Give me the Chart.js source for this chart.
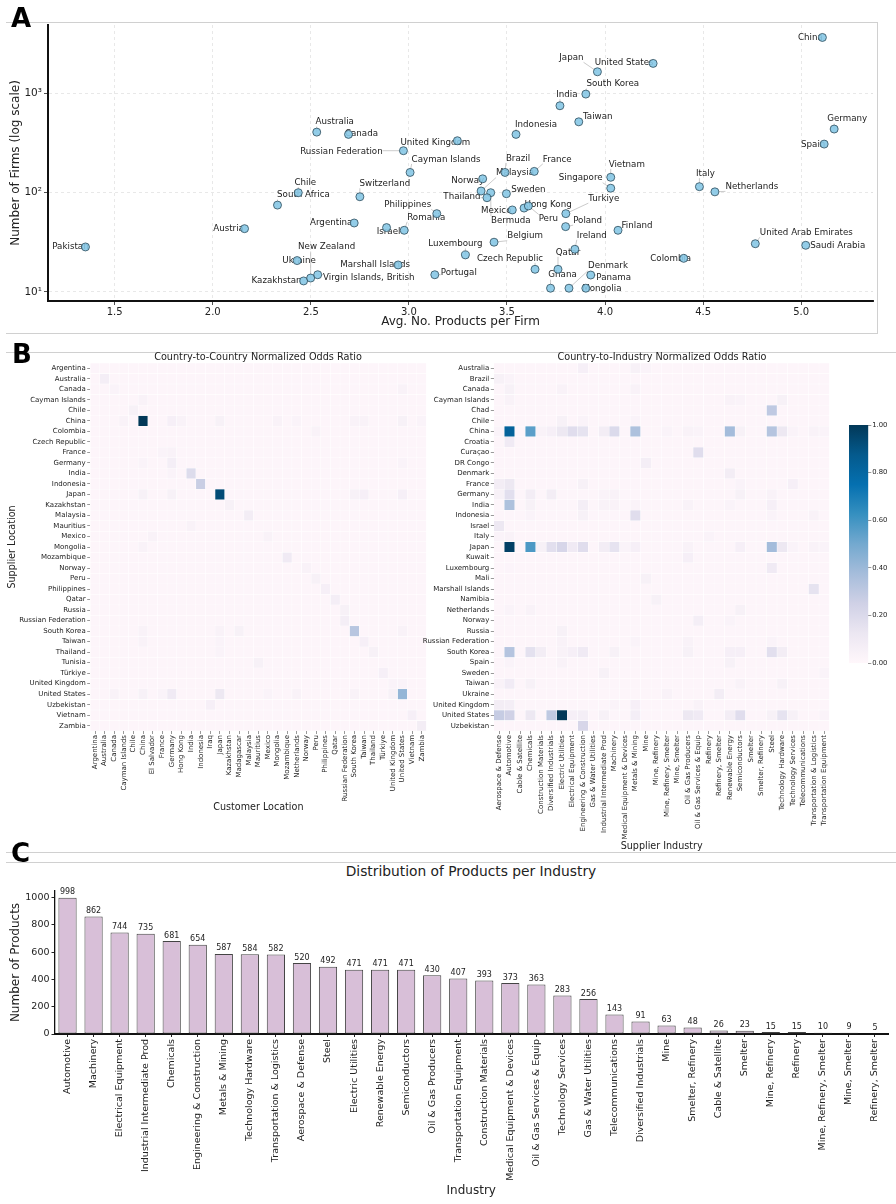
<!DOCTYPE html>
<html>
<head>
<meta charset="utf-8">
<script src="https://cdn.jsdelivr.net/npm/chart.js@4.4.1/dist/chart.umd.min.js"></script>
<style>
  body { margin: 0; background: #fff; font-family: "DejaVu Sans", sans-serif; color: #222; }
  #page { position: relative; width: 896px; height: 1204px; overflow: hidden; }
  canvas { position: absolute; }
  .rule { position: absolute; background: #d0d0d0; }
  .txt { position: absolute; transform: translate(-50%, -50%); white-space: nowrap; line-height: 1; color: #222; }
  .letter { position: absolute; font-weight: bold; font-size: 26px; line-height: 1; color: #000; }
</style>
</head>
<body>
<div id="page">
  <div class="rule" style="left:6px;top:22px;width:872px;height:1px"></div>
  <div class="rule" style="left:877px;top:22px;width:1px;height:312px"></div>
  <div class="rule" style="left:6px;top:333px;width:872px;height:1px"></div>
  <div class="rule" style="left:6px;top:352px;width:890px;height:1px"></div>
  <div class="rule" style="left:6px;top:852px;width:890px;height:1px"></div>
  <div class="rule" style="left:6px;top:862px;width:890px;height:1px"></div>

  <canvas id="chartA" width="896" height="340" style="left:0;top:0"></canvas>
  <canvas id="heatCountry" width="440" height="465" style="left:0;top:348px"></canvas>
  <canvas id="heatIndustry" width="420" height="504" style="left:420px;top:348px"></canvas>
  <canvas id="colorbar" width="56" height="330" style="left:840px;top:348px"></canvas>
  <canvas id="chartC" width="896" height="324" style="left:0;top:880px"></canvas>

  <div class="txt" style="left:258px;top:357px;font-size:9.7px">Country-to-Country Normalized Odds Ratio</div>
  <div class="txt" style="left:662px;top:357px;font-size:9.7px">Country-to-Industry Normalized Odds Ratio</div>
  <div class="txt" style="left:471px;top:872px;font-size:13.8px">Distribution of Products per Industry</div>

  <div class="letter" style="left:11px;top:5px">A</div>
  <div class="letter" style="left:12px;top:341px">B</div>
  <div class="letter" style="left:11px;top:840px">C</div>
</div>

<script>
// ---------- Panel A: firms vs. products per firm ----------
const countries = [
  'Pakistan', 'Austria', 'South Africa', 'Chile', 'Australia', 'Canada', 'Russian Federation',
  'United Kingdom', 'Cayman Islands', 'Switzerland', 'Philippines', 'Romania', 'Israel', 'Argentina',
  'Ukraine', 'Kazakhstan', 'New Zealand', 'Virgin Islands, British', 'Marshall Islands', 'Portugal',
  'Luxembourg', 'China', 'Japan', 'United States', 'South Korea', 'India', 'Taiwan', 'Indonesia',
  'Germany', 'Spain', 'Brazil', 'France', 'Norway', 'Malaysia', 'Bermuda', 'Thailand', 'Sweden',
  'Mexico', 'Hong Kong', 'Peru', 'Turkiye', 'Poland', 'Vietnam', 'Singapore', 'Finland', 'Belgium',
  'Ireland', 'Qatar', 'Czech Republic', 'Ghana', 'Denmark', 'Mongolia', 'Panama', 'Colombia',
  'Italy', 'Netherlands', 'United Arab Emirates', 'Saudi Arabia'
];
const avgProducts = [
  1.351, 2.162, 2.33, 2.436, 2.53, 2.692, 2.972,
  3.247, 3.006, 2.75, 3.142, 2.976, 2.886, 2.721,
  2.43, 2.463, 2.499, 2.535, 2.945, 3.132,
  3.288, 5.108, 3.961, 4.245, 3.902, 3.77, 3.866, 3.546,
  5.168, 5.117, 3.49, 3.639, 3.376, 3.368, 3.417, 3.398, 3.497,
  3.527, 3.587, 3.609, 3.80, 3.799, 4.029, 4.029, 4.066, 3.434,
  3.846, 3.76, 3.643, 3.722, 3.816, 3.902, 3.927, 4.401,
  4.481, 4.56, 4.766, 5.023
];
const firmCounts = [
  28.4, 43.4, 75, 100, 408, 387, 265,
  334, 160, 91, 61.5, 41.8, 44.5, 49.5,
  20.7, 12.9, 13.8, 14.9, 18.7, 14.9,
  23.6, 3670, 1655, 2010, 986, 752, 518, 387,
  438, 309, 160, 164, 138, 104, 100, 89, 97.7,
  67, 70, 73.5, 61.5, 45.5, 143, 111, 41.8, 31.7,
  26.9, 16.9, 16.9, 10.9, 10.9, 10.9, 14.8, 21.8,
  115, 102, 30.6, 29.5
];
const xTicksA = [1.5, 2.0, 2.5, 3.0, 3.5, 4.0, 4.5, 5.0];
const yTicksA = [10, 100, 1000];

// label placement (pixel nudge of each label centre from its point)
const labelNudge = {
  'Pakistan': [-15, 0], 'Austria': [-16, 0], 'Australia': [18, -10], 'Canada': [13, -1],
  'Russian Federation': [-62, 1], 'United Kingdom': [-22, 2], 'Cayman Islands': [36, -13],
  'Chile': [7, -10], 'South Africa': [26, -10], 'Switzerland': [25, -13], 'Philippines': [-29, -9],
  'Romania': [22, -13], 'Israel': [2, 4], 'Argentina': [-23, 0], 'New Zealand': [16, -31],
  'Ukraine': [2, 0], 'Kazakhstan': [-27, 0], 'Virgin Islands, British': [51, 3],
  'Marshall Islands': [-23, 0], 'Portugal': [24, -2], 'Luxembourg': [-10, -11], 'China': [-12, 0],
  'Japan': [-26, -14], 'United States': [-29, -1], 'South Korea': [27, -10], 'India': [7, -11],
  'Taiwan': [19, -5], 'Indonesia': [20, -10], 'Germany': [13, -10], 'Spain': [-11, 1],
  'Brazil': [13, -14], 'France': [23, -12], 'Malaysia': [34, -18], 'Norway': [-15, 2],
  'Thailand': [-25, -1], 'Sweden': [22, -4], 'Mexico': [-16, 1], 'Bermuda': [20, 28],
  'Hong Kong': [24, -3], 'Peru': [20, 13], 'Turkiye': [38, -15], 'Poland': [22, -6],
  'Vietnam': [16, -13], 'Singapore': [-30, -10], 'Finland': [19, -5], 'Belgium': [31, -6],
  'Ireland': [17, -14], 'Qatar': [10, -17], 'Czech Republic': [-25, -11], 'Ghana': [12, -13],
  'Denmark': [39, -22], 'Mongolia': [16, 1], 'Panama': [23, 3], 'Colombia': [-13, 0],
  'Italy': [6, -13], 'Netherlands': [37, -5], 'United Arab Emirates': [51, -11], 'Saudi Arabia': [32, 0]
};

// ---------- Panel B: normalized odds ratio heatmaps ----------
const supplierCountries = [
  'Argentina', 'Australia', 'Canada', 'Cayman Islands', 'Chile', 'China', 'Colombia', 'Czech Republic',
  'France', 'Germany', 'India', 'Indonesia', 'Japan', 'Kazakhstan', 'Malaysia', 'Mauritius', 'Mexico',
  'Mongolia', 'Mozambique', 'Norway', 'Peru', 'Philippines', 'Qatar', 'Russia', 'Russian Federation',
  'South Korea', 'Taiwan', 'Thailand', 'Tunisia', 'Türkiye', 'United Kingdom', 'United States',
  'Uzbekistan', 'Vietnam', 'Zambia'
];
const customerCountries = [
  'Argentina', 'Australia', 'Canada', 'Cayman Islands', 'Chile', 'China', 'El Salvador', 'France',
  'Germany', 'Hong Kong', 'India', 'Indonesia', 'Iraq', 'Japan', 'Kazakhstan', 'Madagascar', 'Malaysia',
  'Mauritius', 'Mexico', 'Mongolia', 'Mozambique', 'Netherlands', 'Norway', 'Peru', 'Philippines',
  'Qatar', 'Russian Federation', 'South Korea', 'Taiwan', 'Thailand', 'Türkiye', 'United Kingdom',
  'United States', 'Vietnam', 'Zambia'
];
// cells that stand out from the near-zero background: [supplier, customer, value]
const countryPairOdds = [
  ['Argentina', 'Argentina', 0.02], ['Australia', 'Australia', 0.07],
  ['Canada', 'Canada', 0.03], ['Canada', 'United States', 0.04],
  ['Cayman Islands', 'China', 0.04], ['Chile', 'Chile', 0.05],
  ['China', 'Cayman Islands', 0.04], ['China', 'China', 1.0], ['China', 'Germany', 0.06],
  ['China', 'Hong Kong', 0.04], ['China', 'Japan', 0.05], ['China', 'Mongolia', 0.04],
  ['China', 'Netherlands', 0.03], ['China', 'South Korea', 0.04], ['China', 'Taiwan', 0.04],
  ['China', 'United States', 0.05], ['China', 'Zambia', 0.03],
  ['Colombia', 'Peru', 0.04], ['France', 'France', 0.03], ['France', 'Germany', 0.04],
  ['Germany', 'China', 0.03], ['Germany', 'Germany', 0.07], ['Germany', 'United States', 0.03],
  ['India', 'Germany', 0.03], ['India', 'India', 0.19], ['Indonesia', 'Indonesia', 0.27],
  ['Japan', 'China', 0.05], ['Japan', 'Germany', 0.05], ['Japan', 'Japan', 0.93],
  ['Japan', 'South Korea', 0.05], ['Japan', 'Taiwan', 0.06], ['Japan', 'United States', 0.06],
  ['Kazakhstan', 'Kazakhstan', 0.05], ['Malaysia', 'Malaysia', 0.08], ['Mauritius', 'India', 0.04],
  ['Mexico', 'El Salvador', 0.04], ['Mexico', 'Mexico', 0.04], ['Mongolia', 'China', 0.04],
  ['Mozambique', 'Mozambique', 0.1], ['Norway', 'Norway', 0.04], ['Peru', 'Peru', 0.05],
  ['Philippines', 'Philippines', 0.06], ['Qatar', 'Qatar', 0.07],
  ['Russia', 'Russian Federation', 0.05], ['Russian Federation', 'Russian Federation', 0.07],
  ['South Korea', 'China', 0.04], ['South Korea', 'Japan', 0.04], ['South Korea', 'Madagascar', 0.05],
  ['South Korea', 'South Korea', 0.32], ['South Korea', 'United States', 0.04],
  ['Taiwan', 'China', 0.04], ['Taiwan', 'Japan', 0.03], ['Taiwan', 'Taiwan', 0.06],
  ['Thailand', 'Japan', 0.03], ['Thailand', 'Thailand', 0.05], ['Tunisia', 'Mauritius', 0.05],
  ['Türkiye', 'Türkiye', 0.06], ['United Kingdom', 'United Kingdom', 0.03],
  ['United Kingdom', 'United States', 0.03],
  ['United States', 'Canada', 0.04], ['United States', 'China', 0.05], ['United States', 'France', 0.03],
  ['United States', 'Germany', 0.1], ['United States', 'Japan', 0.12], ['United States', 'Mexico', 0.03],
  ['United States', 'Netherlands', 0.04], ['United States', 'South Korea', 0.04],
  ['United States', 'United Kingdom', 0.05], ['United States', 'United States', 0.42],
  ['Uzbekistan', 'Iraq', 0.06], ['Vietnam', 'Vietnam', 0.06], ['Zambia', 'Zambia', 0.08]
];

const industrySuppliers = [
  'Australia', 'Brazil', 'Canada', 'Cayman Islands', 'Chad', 'Chile', 'China', 'Croatia', 'Curaçao',
  'DR Congo', 'Denmark', 'France', 'Germany', 'India', 'Indonesia', 'Israel', 'Italy', 'Japan', 'Kuwait',
  'Luxembourg', 'Mali', 'Marshall Islands', 'Namibia', 'Netherlands', 'Norway', 'Russia',
  'Russian Federation', 'South Korea', 'Spain', 'Sweden', 'Taiwan', 'Ukraine', 'United Kingdom',
  'United States', 'Uzbekistan'
];
const supplierIndustries = [
  'Aerospace & Defense', 'Automotive', 'Cable & Satellite', 'Chemicals', 'Construction Materials',
  'Diversified Industrials', 'Electric Utilities', 'Electrical Equipment', 'Engineering & Construction',
  'Gas & Water Utilities', 'Industrial Intermediate Prod', 'Machinery', 'Medical Equipment & Devices',
  'Metals & Mining', 'Mine', 'Mine, Refinery', 'Mine, Refinery, Smelter', 'Mine, Smelter',
  'Oil & Gas Producers', 'Oil & Gas Services & Equip', 'Refinery', 'Refinery, Smelter',
  'Renewable Energy', 'Semiconductors', 'Smelter', 'Smelter, Refinery', 'Steel', 'Technology Hardware',
  'Technology Services', 'Telecommunications', 'Transportation & Logistics', 'Transportation Equipment'
];
// [supplier country, supplier industry, value]
const countryIndustryOdds = [
  ['Australia', 'Engineering & Construction', 0.06], ['Australia', 'Metals & Mining', 0.05], ['Australia', 'Mine', 0.03],
  ['Brazil', 'Aerospace & Defense', 0.05], ['Brazil', 'Automotive', 0.03],
  ['Canada', 'Automotive', 0.05], ['Canada', 'Electric Utilities', 0.04], ['Canada', 'Metals & Mining', 0.04],
  ['Cayman Islands', 'Automotive', 0.04], ['Cayman Islands', 'Technology Hardware', 0.05],
  ['Cayman Islands', 'Renewable Energy', 0.04], ['Cayman Islands', 'Semiconductors', 0.03],
  ['Chad', 'Steel', 0.3],
  ['Chile', 'Electric Utilities', 0.05], ['Chile', 'Engineering & Construction', 0.03], ['Chile', 'Metals & Mining', 0.03],
  ['China', 'Aerospace & Defense', 0.03], ['China', 'Automotive', 0.83], ['China', 'Chemicals', 0.55],
  ['China', 'Construction Materials', 0.04], ['China', 'Diversified Industrials', 0.06],
  ['China', 'Electric Utilities', 0.12], ['China', 'Electrical Equipment', 0.18],
  ['China', 'Engineering & Construction', 0.15], ['China', 'Industrial Intermediate Prod', 0.08],
  ['China', 'Machinery', 0.2], ['China', 'Metals & Mining', 0.35], ['China', 'Mine, Refinery, Smelter', 0.03],
  ['China', 'Oil & Gas Producers', 0.04], ['China', 'Oil & Gas Services & Equip', 0.03],
  ['China', 'Renewable Energy', 0.38], ['China', 'Semiconductors', 0.05], ['China', 'Steel', 0.33],
  ['China', 'Technology Hardware', 0.12], ['China', 'Technology Services', 0.03],
  ['China', 'Transportation & Logistics', 0.04], ['China', 'Transportation Equipment', 0.03],
  ['Croatia', 'Automotive', 0.1], ['Curaçao', 'Oil & Gas Services & Equip', 0.18],
  ['DR Congo', 'Mine', 0.07], ['Denmark', 'Renewable Energy', 0.08],
  ['France', 'Aerospace & Defense', 0.08], ['France', 'Automotive', 0.12],
  ['France', 'Engineering & Construction', 0.05], ['France', 'Technology Services', 0.06], ['France', 'Semiconductors', 0.03],
  ['Germany', 'Aerospace & Defense', 0.05], ['Germany', 'Automotive', 0.17], ['Germany', 'Chemicals', 0.08],
  ['Germany', 'Diversified Industrials', 0.08], ['Germany', 'Industrial Intermediate Prod', 0.03],
  ['Germany', 'Machinery', 0.04], ['Germany', 'Semiconductors', 0.05], ['Germany', 'Steel', 0.04],
  ['India', 'Automotive', 0.35], ['India', 'Chemicals', 0.05], ['India', 'Engineering & Construction', 0.07],
  ['India', 'Industrial Intermediate Prod', 0.04], ['India', 'Machinery', 0.04], ['India', 'Metals & Mining', 0.03],
  ['India', 'Oil & Gas Producers', 0.04], ['India', 'Renewable Energy', 0.03], ['India', 'Steel', 0.06],
  ['Indonesia', 'Metals & Mining', 0.18], ['Indonesia', 'Engineering & Construction', 0.05],
  ['Indonesia', 'Chemicals', 0.03], ['Indonesia', 'Steel', 0.03], ['Indonesia', 'Transportation & Logistics', 0.04],
  ['Israel', 'Aerospace & Defense', 0.12],
  ['Italy', 'Automotive', 0.04], ['Italy', 'Aerospace & Defense', 0.03], ['Italy', 'Refinery', 0.03],
  ['Japan', 'Automotive', 0.97], ['Japan', 'Chemicals', 0.58], ['Japan', 'Construction Materials', 0.05],
  ['Japan', 'Diversified Industrials', 0.17], ['Japan', 'Electric Utilities', 0.22],
  ['Japan', 'Electrical Equipment', 0.1], ['Japan', 'Engineering & Construction', 0.18],
  ['Japan', 'Industrial Intermediate Prod', 0.08], ['Japan', 'Machinery', 0.15],
  ['Japan', 'Medical Equipment & Devices', 0.03], ['Japan', 'Metals & Mining', 0.06],
  ['Japan', 'Oil & Gas Producers', 0.04], ['Japan', 'Semiconductors', 0.06], ['Japan', 'Steel', 0.38],
  ['Japan', 'Technology Hardware', 0.12], ['Japan', 'Technology Services', 0.03],
  ['Japan', 'Transportation & Logistics', 0.04], ['Japan', 'Transportation Equipment', 0.03],
  ['Kuwait', 'Oil & Gas Producers', 0.06], ['Luxembourg', 'Steel', 0.1], ['Luxembourg', 'Automotive', 0.02],
  ['Mali', 'Mine', 0.05], ['Marshall Islands', 'Transportation & Logistics', 0.15],
  ['Namibia', 'Mine, Refinery', 0.05],
  ['Netherlands', 'Automotive', 0.03], ['Netherlands', 'Chemicals', 0.04], ['Netherlands', 'Semiconductors', 0.05],
  ['Norway', 'Oil & Gas Services & Equip', 0.07], ['Norway', 'Renewable Energy', 0.03],
  ['Russia', 'Electric Utilities', 0.05],
  ['Russian Federation', 'Electric Utilities', 0.04], ['Russian Federation', 'Oil & Gas Producers', 0.04],
  ['Russian Federation', 'Steel', 0.03], ['Russian Federation', 'Metals & Mining', 0.03],
  ['South Korea', 'Automotive', 0.33], ['South Korea', 'Chemicals', 0.16], ['South Korea', 'Construction Materials', 0.08],
  ['South Korea', 'Electric Utilities', 0.04], ['South Korea', 'Electrical Equipment', 0.06],
  ['South Korea', 'Engineering & Construction', 0.1], ['South Korea', 'Machinery', 0.05],
  ['South Korea', 'Oil & Gas Producers', 0.05], ['South Korea', 'Renewable Energy', 0.06],
  ['South Korea', 'Semiconductors', 0.06], ['South Korea', 'Steel', 0.17], ['South Korea', 'Technology Hardware', 0.08],
  ['Spain', 'Automotive', 0.03], ['Spain', 'Electric Utilities', 0.04], ['Spain', 'Renewable Energy', 0.05],
  ['Sweden', 'Industrial Intermediate Prod', 0.05], ['Sweden', 'Transportation Equipment', 0.03],
  ['Taiwan', 'Aerospace & Defense', 0.04], ['Taiwan', 'Automotive', 0.09], ['Taiwan', 'Chemicals', 0.05],
  ['Taiwan', 'Semiconductors', 0.04], ['Taiwan', 'Technology Hardware', 0.05],
  ['Ukraine', 'Mine, Refinery, Smelter', 0.04], ['Ukraine', 'Refinery, Smelter', 0.08],
  ['United Kingdom', 'Aerospace & Defense', 0.08], ['United Kingdom', 'Automotive', 0.07],
  ['United Kingdom', 'Metals & Mining', 0.06], ['United Kingdom', 'Machinery', 0.03],
  ['United Kingdom', 'Oil & Gas Services & Equip', 0.04],
  ['United States', 'Aerospace & Defense', 0.28], ['United States', 'Automotive', 0.25],
  ['United States', 'Chemicals', 0.12], ['United States', 'Diversified Industrials', 0.3],
  ['United States', 'Electric Utilities', 1.0], ['United States', 'Electrical Equipment', 0.06],
  ['United States', 'Engineering & Construction', 0.07], ['United States', 'Industrial Intermediate Prod', 0.05],
  ['United States', 'Metals & Mining', 0.07], ['United States', 'Oil & Gas Producers', 0.12],
  ['United States', 'Oil & Gas Services & Equip', 0.1], ['United States', 'Renewable Energy', 0.08],
  ['United States', 'Semiconductors', 0.18], ['United States', 'Steel', 0.05],
  ['United States', 'Technology Hardware', 0.15], ['United States', 'Technology Services', 0.05],
  ['United States', 'Transportation Equipment', 0.03],
  ['Uzbekistan', 'Engineering & Construction', 0.22]
];
const BACKGROUND_ODDS = 0.012;   // every other cell sits near zero
const colorbarTicks = [0, 0.2, 0.4, 0.6, 0.8, 1.0];

// ---------- Panel C: products per industry ----------
const productIndustries = [
  'Automotive', 'Machinery', 'Electrical Equipment', 'Industrial Intermediate Prod', 'Chemicals',
  'Engineering & Construction', 'Metals & Mining', 'Technology Hardware', 'Transportation & Logistics',
  'Aerospace & Defense', 'Steel', 'Electric Utilities', 'Renewable Energy', 'Semiconductors',
  'Oil & Gas Producers', 'Transportation Equipment', 'Construction Materials',
  'Medical Equipment & Devices', 'Oil & Gas Services & Equip', 'Technology Services',
  'Gas & Water Utilities', 'Telecommunications', 'Diversified Industrials', 'Mine', 'Smelter, Refinery',
  'Cable & Satellite', 'Smelter', 'Mine, Refinery', 'Refinery', 'Mine, Refinery, Smelter',
  'Mine, Smelter', 'Refinery, Smelter'
];
const productCounts = [
  998, 862, 744, 735, 681, 654, 587, 584, 582, 520, 492, 471, 471, 471, 430, 407, 393,
  373, 363, 283, 256, 143, 91, 63, 48, 26, 23, 15, 15, 10, 9, 5
];
const yTicksC = [0, 200, 400, 600, 800, 1000];

// ---------- helpers ----------
Chart.defaults.font.family = '"DejaVu Sans", sans-serif';
Chart.defaults.color = '#222';

const PUBU = ['#fff7fb', '#ece7f2', '#d0d1e6', '#a6bddb', '#74a9cf', '#3690c0', '#0570b0', '#045a8d', '#023858'];
function hexRgb(h) {
  return [1, 3, 5].map(i => parseInt(h.substr(i, 2), 16));
}
function pubu(v) {
  const t = Math.max(0, Math.min(1, v)) * (PUBU.length - 1);
  const i = Math.min(Math.floor(t), PUBU.length - 2);
  const f = t - i;
  const a = hexRgb(PUBU[i]), b = hexRgb(PUBU[i + 1]);
  const c = a.map((x, k) => Math.round(x + (b[k] - x) * f));
  return `rgb(${c[0]},${c[1]},${c[2]})`;
}

function buildMatrix(rows, cols, cells) {
  const m = rows.map(() => cols.map(() => BACKGROUND_ODDS));
  cells.forEach(([r, c, v]) => {
    const ri = rows.indexOf(r), ci = cols.indexOf(c);
    if (ri < 0 || ci < 0) { console.warn('unknown cell', r, c); return; }
    m[ri][ci] = v;
  });
  return m;
}

// country labels with leader lines, drawn under the markers
const countryLabels = {
  id: 'countryLabels',
  beforeDatasetsDraw(chart) {
    const {ctx, scales: {x, y}} = chart;
    ctx.save();
    ctx.font = '8.7px "DejaVu Sans"';
    ctx.textAlign = 'center';
    ctx.textBaseline = 'middle';
    countries.forEach((name, i) => {
      const px = x.getPixelForValue(avgProducts[i]);
      const py = y.getPixelForValue(firmCounts[i]);
      const [dx, dy] = labelNudge[name] || [0, -10];
      const tx = px + dx, ty = py + dy;
      const w = ctx.measureText(name).width;
      const nx = Math.max(tx - w / 2, Math.min(px, tx + w / 2));
      const ny = Math.max(ty - 4.5, Math.min(py, ty + 4.5));
      if (Math.hypot(nx - px, ny - py) > 5) {
        ctx.strokeStyle = '#b5b5b5';
        ctx.lineWidth = 0.7;
        ctx.beginPath();
        ctx.moveTo(px, py);
        ctx.lineTo(nx, ny);
        ctx.stroke();
      }
      ctx.fillStyle = '#222';
      ctx.fillText(name, tx, ty);
    });
    ctx.restore();
  }
};

const barValueLabels = {
  id: 'barValueLabels',
  afterDatasetsDraw(chart) {
    const {ctx} = chart;
    const meta = chart.getDatasetMeta(0);
    ctx.save();
    ctx.font = '8px "DejaVu Sans"';
    ctx.fillStyle = '#222';
    ctx.textAlign = 'center';
    ctx.textBaseline = 'bottom';
    meta.data.forEach((bar, i) => ctx.fillText(String(productCounts[i]), bar.x, bar.y - 1.5));
    ctx.restore();
  }
};

// ---------- Panel A chart ----------
const SUP = {10: '10¹', 100: '10²', 1000: '10³'};
new Chart(document.getElementById('chartA'), {
  type: 'scatter',
  data: {
    datasets: [{
      data: countries.map((c, i) => ({x: avgProducts[i], y: firmCounts[i]})),
      pointRadius: 4,
      pointBackgroundColor: 'rgba(135, 200, 230, 0.9)',
      pointBorderColor: '#2d4b5a',
      pointBorderWidth: 0.8
    }]
  },
  options: {
    responsive: false, animation: false, events: [],
    layout: {padding: {top: 25, right: 23, bottom: 10.8, left: 0}},
    plugins: {legend: {display: false}, tooltip: {enabled: false}},
    scales: {
      x: {
        type: 'linear', min: 1.16, max: 5.366,
        afterBuildTicks: s => { s.ticks = xTicksA.map(v => ({value: v})); },
        afterFit: s => { s.height = 28.2; },
        grid: {color: '#e2e2e2', lineWidth: 0.8, tickColor: '#222', tickLength: 4},
        border: {color: '#111', width: 2, dash: [3, 3]},
        ticks: {font: {size: 10}, padding: 1, callback: v => Number(v).toFixed(1)},
        title: {display: true, text: 'Avg. No. Products per Firm', font: {size: 12}, padding: 0}
      },
      y: {
        type: 'logarithmic', min: 8.1, max: 4900,
        afterBuildTicks: s => { s.ticks = yTicksA.map(v => ({value: v})); },
        afterFit: s => { s.width = 48; },
        grid: {color: '#e2e2e2', lineWidth: 0.8, tickColor: '#222', tickLength: 4},
        border: {color: '#111', width: 2, dash: [3, 3]},
        ticks: {font: {size: 10.5}, padding: 2, callback: v => SUP[v] || ''},
        title: {display: true, text: 'Number of Firms (log scale)', font: {size: 12}, padding: {top: 8.5, bottom: 0}}
      }
    }
  },
  plugins: [countryLabels]
});

// ---------- Panel B heatmaps ----------
function drawHeatmap(id, rows, cols, cells, o) {
  const m = buildMatrix(rows, cols, cells);
  new Chart(document.getElementById(id), {
    type: 'bar',
    data: {
      labels: cols,
      datasets: rows.map((r, ri) => ({
        label: r,
        data: cols.map(() => [ri, ri + 1]),
        backgroundColor: cols.map((c, ci) => pubu(m[ri][ci])),
        borderColor: 'rgba(255,255,255,0.55)',
        borderWidth: 0.5,
        borderSkipped: false,
        barPercentage: 1,
        categoryPercentage: 1
      }))
    },
    options: {
      responsive: false, animation: false, events: [],
      layout: {padding: o.padding},
      plugins: {legend: {display: false}, tooltip: {enabled: false}},
      scales: {
        x: {
          stacked: true,
          grid: {drawOnChartArea: false, offset: false, tickLength: 3, tickColor: '#555', tickWidth: 0.6},
          border: {display: false},
          ticks: {autoSkip: false, minRotation: 90, maxRotation: 90, font: {size: 7}, padding: 1},
          title: {display: true, text: o.xTitle, font: {size: 9.6}, padding: 0},
          afterFit: s => { s.height = o.xHeight; }
        },
        y: {
          type: 'linear', min: 0, max: rows.length, reverse: true, stacked: false,
          afterBuildTicks: s => { s.ticks = rows.map((_, i) => ({value: i + 0.5})); },
          grid: {drawOnChartArea: false, tickLength: 3, tickColor: '#555', tickWidth: 0.6},
          border: {display: false},
          ticks: {autoSkip: false, font: {size: 7}, padding: 1.5, callback: (v, i) => rows[i]},
          title: o.yTitle
            ? {display: true, text: o.yTitle, font: {size: 9.6}, padding: {top: 7.2, bottom: 0}}
            : {display: false},
          afterFit: s => { s.width = o.yWidth; }
        }
      }
    }
  });
}

drawHeatmap('heatCountry', supplierCountries, customerCountries, countryPairOdds, {
  padding: {top: 15, right: 13.5, bottom: 0, left: 0},
  xTitle: 'Customer Location', xHeight: 82,
  yTitle: 'Supplier Location', yWidth: 90.2
});
drawHeatmap('heatIndustry', industrySuppliers, supplierIndustries, countryIndustryOdds, {
  padding: {top: 15, right: 10.5, bottom: 0, left: 0},
  xTitle: 'Supplier Industry', xHeight: 121,
  yTitle: null, yWidth: 73.8
});

// colour bar for the odds ratio scale
new Chart(document.getElementById('colorbar'), {
  type: 'bar',
  data: {
    labels: ['odds'],
    datasets: [{
      data: [1],
      barPercentage: 1, categoryPercentage: 1, borderWidth: 0,
      backgroundColor: c => {
        const area = c.chart.chartArea;
        if (!area) return PUBU[0];
        const g = c.chart.ctx.createLinearGradient(0, area.bottom, 0, area.top);
        PUBU.forEach((col, i) => g.addColorStop(i / (PUBU.length - 1), col));
        return g;
      }
    }]
  },
  options: {
    responsive: false, animation: false, events: [],
    layout: {padding: {top: 77, right: 0, bottom: 14.7, left: 9}},
    plugins: {legend: {display: false}, tooltip: {enabled: false}},
    scales: {
      x: {display: false},
      y: {
        position: 'right', min: 0, max: 1,
        afterBuildTicks: s => { s.ticks = colorbarTicks.map(v => ({value: v})); },
        afterFit: s => { s.width = 27.7; },
        grid: {drawOnChartArea: false, tickLength: 3, tickColor: '#555', tickWidth: 0.6},
        border: {display: false},
        ticks: {font: {size: 6.8}, padding: 1, callback: v => Number(v).toFixed(2)}
      }
    }
  }
});

// ---------- Panel C chart ----------
new Chart(document.getElementById('chartC'), {
  type: 'bar',
  data: {
    labels: productIndustries,
    datasets: [{
      data: productCounts,
      backgroundColor: '#d8bfd8',
      borderColor: '#444',
      borderWidth: 1,
      borderSkipped: false,
      barPercentage: 0.7,
      categoryPercentage: 1
    }]
  },
  options: {
    responsive: false, animation: false, events: [],
    layout: {padding: {top: 11, right: 8, bottom: 6, left: 0}},
    plugins: {legend: {display: false}, tooltip: {enabled: false}},
    scales: {
      x: {
        grid: {drawOnChartArea: false, offset: false, tickLength: 3, tickColor: '#222'},
        border: {color: '#111', width: 2},
        ticks: {autoSkip: false, minRotation: 90, maxRotation: 90, font: {size: 9.5}, padding: 2},
        title: {display: true, text: 'Industry', font: {size: 12}, padding: 0},
        afterFit: s => { s.height = 164; }
      },
      y: {
        min: 0, max: 1048,
        afterBuildTicks: s => { s.ticks = yTicksC.map(v => ({value: v})); },
        afterFit: s => { s.width = 54.5; },
        grid: {drawOnChartArea: false, tickLength: 3, tickColor: '#222'},
        border: {color: '#111', width: 1.3},
        ticks: {font: {size: 9.5}, padding: 2, callback: v => String(v)},
        title: {display: true, text: 'Number of Products', font: {size: 12}, padding: {top: 8.8, bottom: 0}}
      }
    }
  },
  plugins: [barValueLabels]
});
</script>
</body>
</html>
